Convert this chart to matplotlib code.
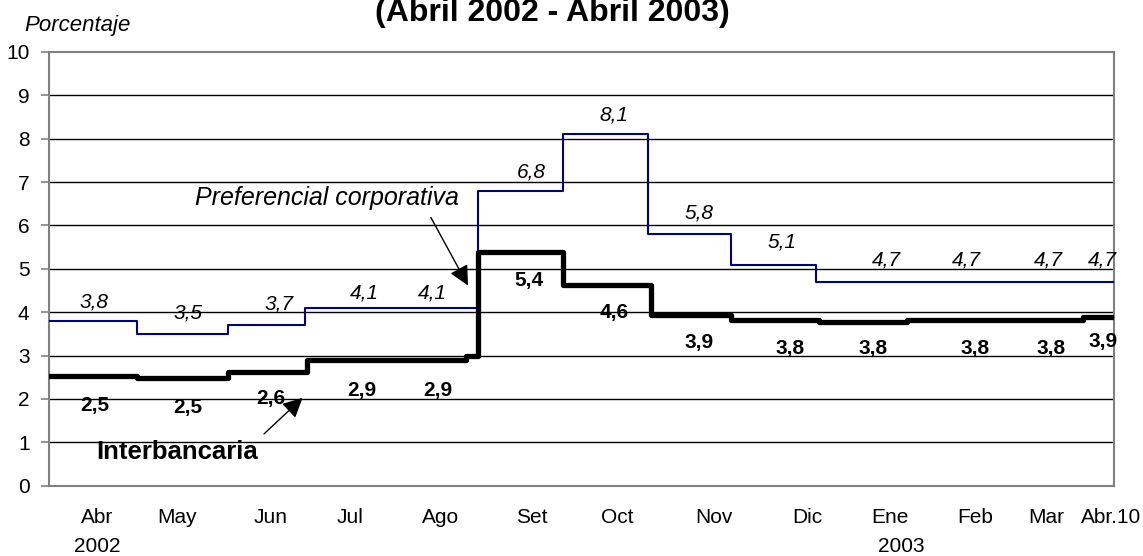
import numpy as np
import matplotlib
matplotlib.use("Agg")
import matplotlib.pyplot as plt

plt.rcParams['font.family'] = ['Liberation Sans', 'DejaVu Sans']

# --- Step series (date of change, level) ---
pref_dates = ['2002-04-01', '2002-05-02', '2002-06-03', '2002-06-30', '2002-08-30',
              '2002-09-29', '2002-10-29', '2002-11-27', '2002-12-27', '2003-04-11']
pref_vals = [3.8, 3.5, 3.7, 4.1, 6.8, 8.1, 5.8, 5.1, 4.7, 4.7]

inter_dates = ['2002-04-01', '2002-05-02', '2002-06-03', '2002-07-01', '2002-08-26',
               '2002-08-30', '2002-09-29', '2002-10-30', '2002-11-27', '2002-12-28',
               '2003-01-28', '2003-03-31', '2003-04-11']
inter_vals = [2.53, 2.48, 2.62, 2.90, 2.99, 5.40, 4.63, 3.93, 3.83, 3.77, 3.82, 3.90, 3.90]

# --- Value labels ---
pref_lab_dates = ['2002-04-17', '2002-05-20', '2002-06-21', '2002-07-21', '2002-08-14',
                  '2002-09-18', '2002-10-17', '2002-11-16', '2002-12-15', '2003-01-21',
                  '2003-02-18', '2003-03-19', '2003-04-07']
pref_lab_vals = [3.8, 3.5, 3.7, 4.1, 4.1, 6.8, 8.1, 5.8, 5.1, 4.7, 4.7, 4.7, 4.7]
pref_lab_y = [4.23, 3.98, 4.19, 4.44, 4.44, 7.23, 8.54, 6.28, 5.62, 5.2, 5.2, 5.2, 5.2]

inter_lab_dates = ['2002-04-17', '2002-05-20', '2002-06-18', '2002-07-20', '2002-08-16',
                   '2002-09-17', '2002-10-17', '2002-11-16', '2002-12-18', '2003-01-16',
                   '2003-02-21', '2003-03-20', '2003-04-07']
inter_lab_vals = [2.5, 2.5, 2.6, 2.9, 2.9, 5.4, 4.6, 3.9, 3.8, 3.8, 3.8, 3.8, 3.9]
inter_lab_y = [1.85, 1.81, 2.0, 2.2, 2.2, 4.74, 4.0, 3.31, 3.17, 3.17, 3.17, 3.17, 3.33]

# --- Axis labels ---
tick_dates = ['2002-04-18', '2002-05-16', '2002-06-18', '2002-07-16', '2002-08-17',
              '2002-09-18', '2002-10-18', '2002-11-21', '2002-12-24', '2003-01-22',
              '2003-02-21', '2003-03-18', '2003-04-10']
tick_labels = ['Abr', 'May', 'Jun', 'Jul', 'Ago', 'Set', 'Oct', 'Nov', 'Dic', 'Ene',
               'Feb', 'Mar', 'Abr.10']
year_dates = ['2002-04-18', '2003-01-26']
year_labels = ['2002', '2003']


def d(s):
    return np.array(s, dtype='datetime64[D]')


def fmt(v):
    return f"{v:.1f}".replace('.', ',')


fig = plt.figure(figsize=(11.43, 5.56), dpi=100)
ax = fig.add_axes([49 / 1143, 1 - 485.7 / 556, 1065 / 1143, 433.7 / 556])

ax.plot(d(pref_dates), pref_vals, drawstyle='steps-post', color='#000080', lw=1.5, zorder=4)
ax.plot(d(inter_dates), inter_vals, drawstyle='steps-post', color='black', lw=3.8, zorder=5)

for x, y, v in zip(d(pref_lab_dates), pref_lab_y, pref_lab_vals):
    ax.text(x, y, fmt(v), ha='center', va='center', fontsize=15, style='italic', zorder=6)
for x, y, v in zip(d(inter_lab_dates), inter_lab_y, inter_lab_vals):
    ax.text(x, y, fmt(v), ha='center', va='center', fontsize=15, weight='bold', zorder=6)

# Series annotations
ax.text(d('2002-07-08'), 6.63, 'Preferencial corporativa', ha='center', va='center',
        fontsize=18, style='italic', zorder=6)
ax.annotate('', xy=(d('2002-08-27'), 4.56), xytext=(d('2002-08-13'), 6.24),
            arrowprops=dict(arrowstyle='-|>', color='black', lw=1, mutation_scale=30), zorder=6)
ax.text(d('2002-05-16'), 0.78, 'Interbancaria', ha='center', va='center',
        fontsize=18.5, weight='bold', zorder=6)
ax.annotate('', xy=(d('2002-06-30'), 2.07), xytext=(d('2002-06-15'), 1.15),
            arrowprops=dict(arrowstyle='-|>', color='black', lw=1, mutation_scale=30), zorder=6)

ax.set_xlim(d('2002-04-01'), d('2003-04-11'))
ax.set_ylim(0, 10)
ax.set_yticks(range(0, 11))
for yv in range(1, 10):
    ax.axhline(yv, color='black', lw=1, zorder=1)

ax.set_xticks(d(tick_dates))
ax.set_xticklabels(tick_labels)
ax.tick_params(axis='x', length=0, pad=16, labelsize=15)
ax.tick_params(axis='y', length=6, width=1.2, color='#808080', pad=8, labelsize=15)
for xd, lab in zip(d(year_dates), year_labels):
    ax.text(xd, -0.14, lab, transform=ax.get_xaxis_transform(), ha='center', va='center',
            fontsize=15)

for sp in ax.spines.values():
    sp.set_color('#808080')
    sp.set_linewidth(1.5)

fig.text(24 / 1143, 1 - 25 / 556, 'Porcentaje', ha='left', va='center', fontsize=16,
         style='italic')
fig.text(0.483, 1 - 21 / 556, '(Abril 2002 - Abril 2003)', ha='center', va='baseline',
         fontsize=23, weight='bold')

fig.savefig('out.png', dpi=100)
